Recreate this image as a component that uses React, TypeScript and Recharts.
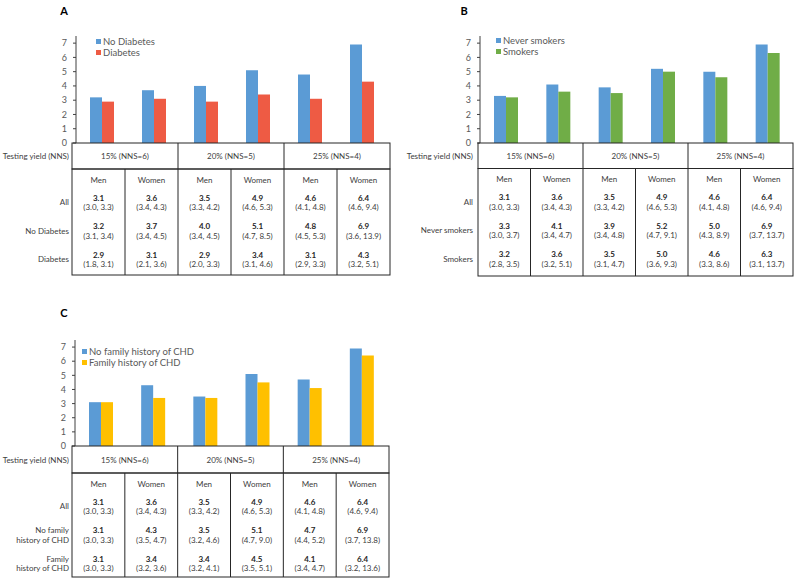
import React from 'react';
import { BarChart, Bar, XAxis, YAxis, Legend } from 'recharts';

const FONT = 'Lato, "Open Sans", sans-serif';

const sexLabels = ['Men', 'Women', 'Men', 'Women', 'Men', 'Women'];
const yieldLabels = ['15% (NNS=6)', '20% (NNS=5)', '25% (NNS=4)'];
const yTicks = [0, 1, 2, 3, 4, 5, 6, 7];

const allEst = [3.1, 3.6, 3.5, 4.9, 4.6, 6.4];
const allLo = [3.0, 3.4, 3.3, 4.6, 4.1, 4.6];
const allHi = [3.3, 4.3, 4.2, 5.3, 4.8, 9.4];

// Panel A
const noDiabEst = [3.2, 3.7, 4.0, 5.1, 4.8, 6.9];
const noDiabLo = [3.1, 3.4, 3.4, 4.7, 4.5, 3.6];
const noDiabHi = [3.4, 4.5, 4.5, 8.5, 5.3, 13.9];
const diabEst = [2.9, 3.1, 2.9, 3.4, 3.1, 4.3];
const diabLo = [1.8, 2.1, 2.0, 3.1, 2.9, 3.2];
const diabHi = [3.1, 3.6, 3.3, 4.6, 3.3, 5.1];

// Panel B
const neverEst = [3.3, 4.1, 3.9, 5.2, 5.0, 6.9];
const neverLo = [3.0, 3.4, 3.4, 4.7, 4.3, 3.7];
const neverHi = [3.7, 4.7, 4.8, 9.1, 8.9, 13.7];
const smokEst = [3.2, 3.6, 3.5, 5.0, 4.6, 6.3];
const smokLo = [2.8, 3.2, 3.1, 3.6, 3.3, 3.1];
const smokHi = [3.5, 5.1, 4.7, 9.3, 8.6, 13.7];

// Panel C
const noFamEst = [3.1, 4.3, 3.5, 5.1, 4.7, 6.9];
const noFamLo = [3.0, 3.5, 3.2, 4.7, 4.4, 3.7];
const noFamHi = [3.3, 4.7, 4.6, 9.0, 5.2, 13.8];
const famEst = [3.1, 3.4, 3.4, 4.5, 4.1, 6.4];
const famLo = [3.0, 3.2, 3.2, 3.5, 3.4, 3.2];
const famHi = [3.3, 3.6, 4.1, 5.1, 4.7, 13.6];

const BLUE = '#5B9BD5';
const RED = '#EE5B44';
const GREEN = '#70AD47';
const YELLOW = '#FFC000';

type Row = { label: string[]; est: number[]; lo: number[]; hi: number[] };

const panels = [
  {
    id: 'A',
    letter: { x: 64, y: 10 },
    chart: { left: 0, top: 0, width: 400, height: 150, margin: { top: 36, right: 12, bottom: 7, left: 56 } },
    legend: { left: 96, top: 36 },
    table: { left: 72, right: 390, top: 143, headerBottom: 169, bottom: 275, labelRight: 69 },
    series: [
      { name: 'No Diabetes', color: BLUE, values: noDiabEst },
      { name: 'Diabetes', color: RED, values: diabEst },
    ],
    rows: [
      { label: ['All'], est: allEst, lo: allLo, hi: allHi },
      { label: ['No Diabetes'], est: noDiabEst, lo: noDiabLo, hi: noDiabHi },
      { label: ['Diabetes'], est: diabEst, lo: diabLo, hi: diabHi },
    ] as Row[],
  },
  {
    id: 'B',
    letter: { x: 464, y: 10 },
    chart: { left: 400, top: 0, width: 400, height: 150, margin: { top: 36, right: 6, bottom: 7, left: 60 } },
    legend: { left: 96, top: 35 },
    table: { left: 478, right: 793, top: 143, headerBottom: 168.5, bottom: 276, labelRight: 473 },
    series: [
      { name: 'Never smokers', color: BLUE, values: neverEst },
      { name: 'Smokers', color: GREEN, values: smokEst },
    ],
    rows: [
      { label: ['All'], est: allEst, lo: allLo, hi: allHi },
      { label: ['Never smokers'], est: neverEst, lo: neverLo, hi: neverHi },
      { label: ['Smokers'], est: smokEst, lo: smokLo, hi: smokHi },
    ] as Row[],
  },
  {
    id: 'C',
    letter: { x: 64, y: 312 },
    chart: { left: 0, top: 300, width: 400, height: 153, margin: { top: 40, right: 12, bottom: 7, left: 55 } },
    legend: { left: 82, top: 46 },
    table: { left: 72, right: 389, top: 446, headerBottom: 473, bottom: 577, labelRight: 69 },
    series: [
      { name: 'No family history of CHD', color: BLUE, values: noFamEst },
      { name: 'Family history of CHD', color: YELLOW, values: famEst },
    ],
    rows: [
      { label: ['All'], est: allEst, lo: allLo, hi: allHi },
      { label: ['No family', 'history of CHD'], est: noFamEst, lo: noFamLo, hi: noFamHi },
      { label: ['Family', 'history of CHD'], est: famEst, lo: famLo, hi: famHi },
    ] as Row[],
  },
];

const LegendContent = (props: any) => {
  const payload = props.payload || [];
  return (
    <div style={{ fontSize: 9.5, color: '#595959', lineHeight: '11px', fontFamily: FONT }}>
      {payload.map((p: any) => (
        <div key={p.value} style={{ display: 'flex', alignItems: 'center', whiteSpace: 'nowrap' }}>
          <span style={{ width: 5, height: 5, background: p.color, marginRight: 2, display: 'inline-block' }} />
          {p.value}
        </div>
      ))}
    </div>
  );
};

const fmt = (v: number) => v.toFixed(1);
const FS = 8;

function Table({ t, rows }: { t: any; rows: Row[] }) {
  const colW = (t.right - t.left) / 6;
  const xs = Array.from({ length: 7 }, (_, i) => t.left + i * colW);
  const line = '#262626';
  const txt = '#404040';
  const hb = t.headerBottom;
  return (
    <g fontFamily={FONT}>
      <rect x={t.left} y={t.top} width={t.right - t.left} height={hb - t.top} fill="none" stroke={line} />
      <rect x={t.left} y={hb} width={t.right - t.left} height={t.bottom - hb} fill="none" stroke={line} />
      {[2, 4].map((i) => (
        <line key={'m' + i} x1={xs[i]} x2={xs[i]} y1={t.top} y2={t.bottom} stroke={line} />
      ))}
      {[1, 3, 5].map((i) => (
        <line key={'s' + i} x1={xs[i]} x2={xs[i]} y1={hb} y2={t.bottom} stroke={line} />
      ))}
      <text x={t.labelRight} y={(t.top + hb) / 2} textAnchor="end" dominantBaseline="central" fontSize={FS} fill={txt}>
        Testing yield (NNS)
      </text>
      {yieldLabels.map((l, k) => (
        <text key={l} x={(xs[2 * k] + xs[2 * k + 2]) / 2} y={(t.top + hb) / 2} textAnchor="middle" dominantBaseline="central" fontSize={FS} fill={txt}>
          {l}
        </text>
      ))}
      {sexLabels.map((s, i) => (
        <text key={'sx' + i} x={xs[i] + colW / 2} y={hb + 10.5} textAnchor="middle" dominantBaseline="central" fontSize={FS} fill={txt}>
          {s}
        </text>
      ))}
      {rows.map((r, ri) => {
        const yb = hb + 28.5 + 28.5 * ri;
        const yc = yb + 9.5;
        return (
          <g key={'r' + ri}>
            {r.label.length === 1 ? (
              <text x={t.labelRight} y={(yb + yc) / 2} textAnchor="end" dominantBaseline="central" fontSize={FS} fill={txt}>
                {r.label[0]}
              </text>
            ) : (
              r.label.map((l, li) => (
                <text key={l} x={t.labelRight} y={li === 0 ? yb : yc} textAnchor="end" dominantBaseline="central" fontSize={FS} fill={txt}>
                  {l}
                </text>
              ))
            )}
            {r.est.map((e, i) => (
              <g key={'c' + i}>
                <text x={xs[i] + colW / 2} y={yb} textAnchor="middle" dominantBaseline="central" fontSize={FS} fontWeight="bold" fill="#262626">
                  {fmt(e)}
                </text>
                <text x={xs[i] + colW / 2} y={yc} textAnchor="middle" dominantBaseline="central" fontSize={FS} fill={txt}>
                  {`(${fmt(r.lo[i])}, ${fmt(r.hi[i])})`}
                </text>
              </g>
            ))}
          </g>
        );
      })}
    </g>
  );
}

function Panel({ p }: { p: any }) {
  const data = sexLabels.map((s, i) => ({
    key: `${s}-${i}`,
    s0: p.series[0].values[i],
    s1: p.series[1].values[i],
  }));
  return (
    <div style={{ position: 'absolute', left: p.chart.left, top: p.chart.top }}>
      <BarChart width={p.chart.width} height={p.chart.height} data={data} margin={p.chart.margin} barGap={0}>
        <XAxis dataKey="key" hide />
        <YAxis
          domain={[0, 7.5]}
          ticks={yTicks}
          interval={0}
          width={20}
          tickSize={3}
          tickMargin={6}
          axisLine={{ stroke: '#404040' }}
          tickLine={{ stroke: '#404040' }}
          tick={{ fontSize: 9, fill: '#595959', fontFamily: FONT }}
          allowDataOverflow
        />
        <Legend
          content={LegendContent}
          itemSorter="dataKey"
          layout="vertical"
          verticalAlign="middle"
          align="center"
          wrapperStyle={{ left: p.legend.left, top: p.legend.top, width: 'auto', height: 'auto' }}
        />
        <Bar dataKey="s0" name={p.series[0].name} fill={p.series[0].color} barSize={12} isAnimationActive={false} />
        <Bar dataKey="s1" name={p.series[1].name} fill={p.series[1].color} barSize={12} isAnimationActive={false} />
      </BarChart>
    </div>
  );
}

export default function App() {
  return (
    <div style={{ position: 'absolute', left: 0, top: 0, width: 800, height: 580, background: '#fff', fontFamily: FONT, overflow: 'hidden' }}>
      {panels.map((p) => (
        <Panel key={p.id} p={p} />
      ))}
      <svg width={800} height={580} style={{ position: 'absolute', left: 0, top: 0, pointerEvents: 'none' }}>
        {panels.map((p) => (
          <g key={'t' + p.id}>
            <text x={p.letter.x} y={p.letter.y} textAnchor="middle" dominantBaseline="central" fontSize={11} fontWeight="bold" fill="#000" fontFamily={FONT}>
              {p.id}
            </text>
            <Table t={p.table} rows={p.rows} />
          </g>
        ))}
      </svg>
    </div>
  );
}
